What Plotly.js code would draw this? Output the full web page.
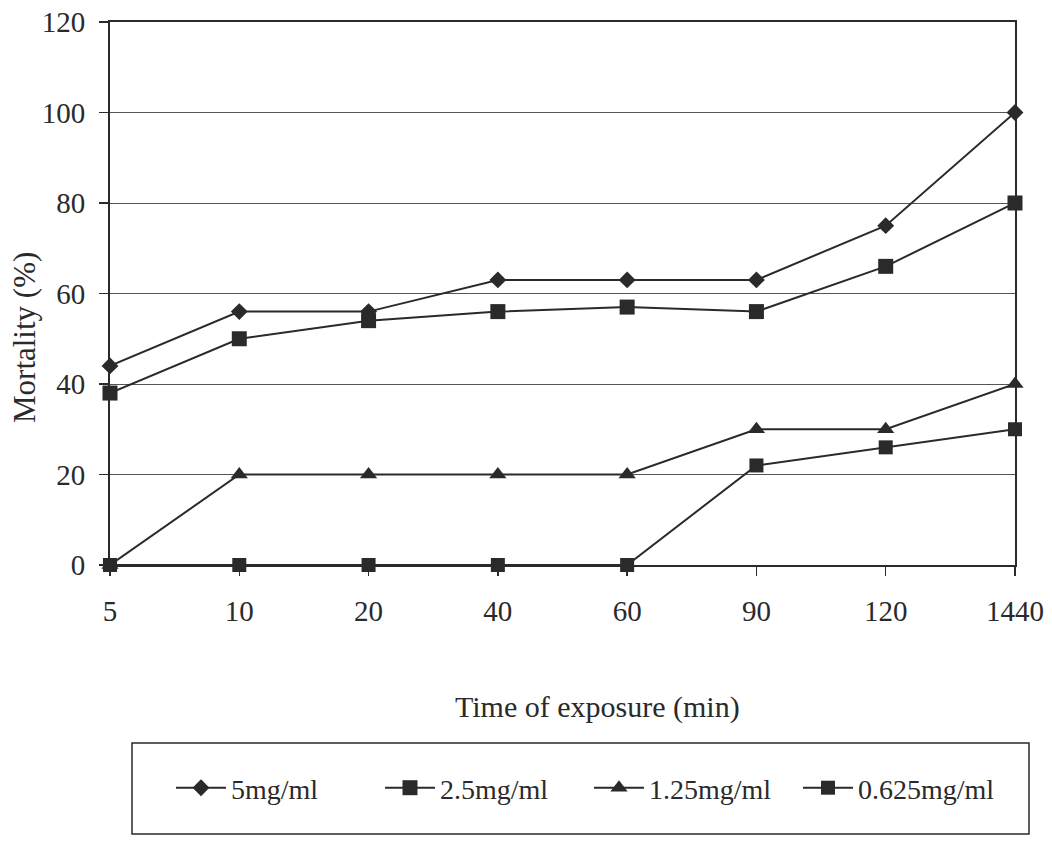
<!DOCTYPE html>
<html>
<head>
<meta charset="utf-8">
<script src="https://cdn.plot.ly/plotly-3.0.1.min.js"></script>
<style>html,body{margin:0;padding:0;background:#fff;}#chart{width:1052px;height:843px;}</style>
</head>
<body>
<div id="chart"></div>
<script>
const categories = ['5', '10', '20', '40', '60', '90', '120', '1440'];
const seriesNames = ['5mg/ml', '2.5mg/ml', '1.25mg/ml', '0.625mg/ml'];
const s5 = [44, 56, 56, 63, 63, 63, 75, 100];
const s25 = [38, 50, 54, 56, 57, 56, 66, 80];
const s125 = [0, 20, 20, 20, 20, 30, 30, 40];
const s0625 = [0, 0, 0, 0, 0, 22, 26, 30];
const yTicks = [0, 20, 40, 60, 80, 100, 120];

const ink = '#2a2a2a';
const font = '"Liberation Serif", "Times New Roman", serif';
const symbols = ['diamond', 'square', 'triangle-up', 'square'];
const sizes = [13, 15, 15, 14];
const data = [s5, s25, s125, s0625].map((ys, i) => ({
  type: 'scatter', mode: 'lines+markers', name: seriesNames[i],
  x: categories, y: ys,
  line: {color: ink, width: 2},
  marker: {symbol: symbols[i], size: sizes[i], color: ink},
  cliponaxis: false
}));

const W = 905, H = 543, L = 110, T = 22;
const px = v => (v - L) / W;
const py = v => (T + H - v) / H;

const layout = {
  width: 1052, height: 843,
  margin: {l: 110, r: 37, t: 22, b: 278},
  paper_bgcolor: '#fff', plot_bgcolor: '#fff',
  font: {family: font, color: ink, size: 28},
  showlegend: true,
  xaxis: {
    type: 'category', range: [0, 7],
    showline: true, linecolor: ink, linewidth: 2, mirror: true,
    ticks: 'outside', ticklen: 9, tickcolor: ink, tickwidth: 1.5,
    ticklabelstandoff: 10,
    showgrid: false, zeroline: false,
    tickfont: {family: font, size: 29, color: ink}
  },
  yaxis: {
    range: [0, 120], tickvals: yTicks, ticktext: yTicks.map(String),
    showline: true, linecolor: ink, linewidth: 2, mirror: true,
    ticks: 'outside', ticklen: 9, tickcolor: ink, tickwidth: 1.5,
    ticklabelstandoff: 8,
    showgrid: true, gridcolor: '#555', gridwidth: 1, zeroline: false,
    tickfont: {family: font, size: 29, color: ink}
  },
  legend: {
    orientation: 'h', x: px(171), xanchor: 'left', y: (843 - 788) / 843, yanchor: 'middle',
    yref: 'container',
    font: {family: font, size: 28, color: ink},
    itemwidth: 50, entrywidth: 144, entrywidthmode: 'pixels',
    bgcolor: 'rgba(0,0,0,0)', borderwidth: 0
  },
  shapes: [{
    type: 'rect', xref: 'paper', yref: 'paper',
    x0: px(132), x1: px(1029), y0: py(834), y1: py(743),
    line: {color: ink, width: 1.5}, fillcolor: 'rgba(0,0,0,0)'
  }],
  annotations: [
    {text: 'Time of exposure (min)', xref: 'paper', yref: 'paper',
     x: px(597), y: py(707), xanchor: 'center', yanchor: 'middle',
     showarrow: false, font: {family: font, size: 30, color: ink}},
    {text: 'Mortality (%)', xref: 'paper', yref: 'paper', textangle: -90,
     x: px(24), y: py(338), xanchor: 'center', yanchor: 'middle',
     showarrow: false, font: {family: font, size: 31, color: ink}}
  ]
};

Plotly.newPlot('chart', data, layout, {displayModeBar: false, staticPlot: true});
</script>
</body>
</html>
